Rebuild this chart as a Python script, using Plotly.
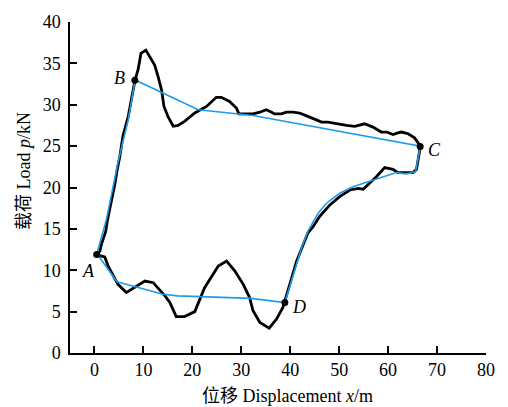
import plotly.graph_objects as go

# Measured load-displacement loop (black), in traversal order A -> B -> C -> D -> A
loop_x = [0.5, 1.1, 1.4, 1.8, 2.3, 2.6, 3.1, 3.5, 4.2, 4.6, 5.2, 5.8, 6.9, 7.4, 7.9, 8.3,
          8.9, 9.5, 10.5, 11.5, 12.3, 13.0, 13.7, 14.2, 15.0, 16.1, 17.1, 18.4, 20.5, 22.9,
          24.9, 25.9, 27.6, 29.0, 29.5, 30.7, 32.4, 33.8, 35.1, 36.2, 36.8, 38.2, 39.2, 40.6,
          41.9, 43.6, 45.4, 46.4, 47.7, 49.4, 51.5, 53.2, 55.2, 56.9, 58.6, 59.7, 61.0, 62.0,
          62.7, 64.1, 65.4, 66.6,
          66.5, 66.3, 65.8, 65.1, 62.0, 61.0, 59.3, 57.6, 56.2, 54.9, 53.9, 52.2, 50.1, 48.1,
          46.0, 44.7, 43.6, 42.3, 41.3, 39.9, 38.9,
          38.5, 37.2, 35.7, 33.8, 32.4, 31.7, 30.4, 28.7, 27.0, 25.3, 24.2, 22.5, 20.5, 18.4,
          16.7, 15.4, 14.4, 12.0, 10.3, 7.9, 6.5, 4.8, 3.8, 2.8, 2.1, 1.4, 0.5]
loop_y = [12.0, 12.3, 13.1, 13.9, 14.7, 15.9, 17.3, 18.3, 20.5, 22.0, 23.8, 26.2, 28.6, 30.2, 31.7, 33.0,
          34.2, 36.2, 36.6, 35.6, 34.8, 33.4, 31.8, 29.8, 28.6, 27.4, 27.5, 28.0, 29.0, 29.8,
          30.9, 30.9, 30.4, 29.6, 28.9, 28.9, 28.9, 29.1, 29.4, 29.1, 28.9, 28.9, 29.1, 29.1,
          29.0, 28.6, 28.2, 27.9, 27.9, 27.7, 27.5, 27.4, 27.7, 27.3, 26.7, 26.7, 26.4, 26.6,
          26.7, 26.5, 26.0, 25.0,
          24.6, 24.2, 22.2, 21.8, 21.8, 22.2, 22.4, 21.3, 20.5, 19.8, 19.9, 19.7, 18.9, 17.9,
          16.5, 15.3, 14.5, 12.7, 11.1, 8.3, 6.1,
          5.5, 4.1, 3.0, 3.7, 5.1, 6.7, 8.3, 9.9, 11.1, 10.5, 9.5, 7.9, 5.0, 4.4,
          4.4, 6.1, 6.9, 8.5, 8.7, 7.8, 7.3, 8.3, 9.5, 10.5, 11.6, 11.7, 12.0]

# Simplified skeleton curve (blue)
skel_x = [0.5, 2.5, 4.8, 6.9, 8.3, 21.2, 32.4, 66.6, 65.6, 63.7, 61.7, 56.1, 52.8, 50.1,
          47.4, 45.7, 43.6, 42.3, 40.6, 38.9, 32.0, 25.0, 17.0, 14.0, 4.6, 0.5]
skel_y = [12.0, 16.3, 23.0, 28.2, 33.0, 29.4, 28.7, 25.0, 21.9, 21.65, 21.8, 20.7, 20.1, 19.3,
          18.1, 16.9, 14.7, 12.7, 9.5, 6.1, 6.6, 6.75, 6.9, 7.1, 8.6, 12.0]

# Characteristic points
pt_names = ["A", "B", "C", "D"]
pt_x = [0.45, 8.25, 66.55, 38.9]
pt_y = [11.9, 32.95, 24.95, 6.1]
pt_shift = {"A": (-8, -16), "B": (-15, 2), "C": (14, -3), "D": (14, -4)}

FONT = "Liberation Serif, Times New Roman, Noto Sans CJK SC, serif"

fig = go.Figure()
fig.add_trace(go.Scatter(x=loop_x, y=loop_y, mode="lines",
                         line=dict(color="black", width=2.8), hoverinfo="skip"))
fig.add_trace(go.Scatter(x=skel_x, y=skel_y, mode="lines",
                         line=dict(color="#1e9be8", width=1.6), hoverinfo="skip"))
fig.add_trace(go.Scatter(x=pt_x, y=pt_y, mode="markers",
                         marker=dict(color="black", size=7), hoverinfo="skip"))

for n, x, y in zip(pt_names, pt_x, pt_y):
    dx, dy = pt_shift[n]
    fig.add_annotation(x=x, y=y, text=f"<i>{n}</i>", showarrow=False,
                       xshift=dx, yshift=dy, font=dict(family=FONT, size=18, color="black"))

fig.add_annotation(xref="paper", yref="paper", x=0.524, y=-0.131,
                   xanchor="center", yanchor="middle",
                   text="位移 Displacement <i>x</i>/m", showarrow=False,
                   font=dict(family=FONT, size=18, color="black"))
fig.add_annotation(xref="paper", yref="paper", x=-0.111, y=0.549, textangle=-90,
                   xanchor="center", yanchor="middle",
                   text="载荷 Load <i>p</i>/kN", showarrow=False,
                   font=dict(family=FONT, size=18, color="black"))

axis_common = dict(showline=True, linecolor="black", linewidth=1.5, ticks="inside",
                   ticklen=7, tickwidth=1.5, tickcolor="black", showgrid=False,
                   zeroline=False, mirror=False,
                   tickfont=dict(family=FONT, size=18, color="black"))

fig.update_xaxes(range=[-5, 80], dtick=10, tick0=0, **axis_common)
fig.update_yaxes(range=[0, 40], dtick=5, tick0=0, ticklabelstandoff=4, **axis_common)

fig.update_layout(width=508, height=407, margin=dict(l=70, r=22, t=18, b=54),
                  plot_bgcolor="white", paper_bgcolor="white", showlegend=False)

fig.write_html("out.html")
